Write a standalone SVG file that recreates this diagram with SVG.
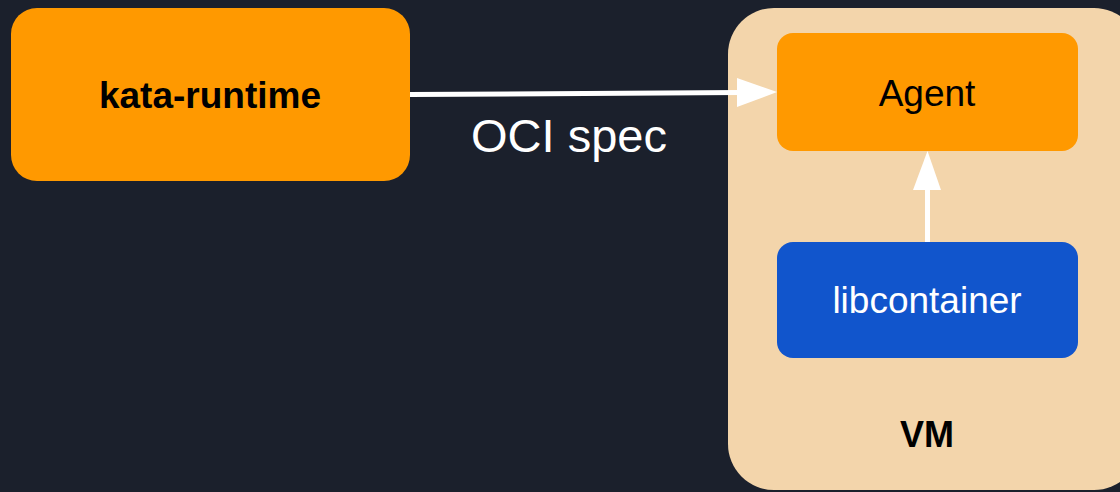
<svg xmlns="http://www.w3.org/2000/svg" width="1120" height="492" viewBox="0 0 1120 492">
<style>
.lbl{font-family:"Liberation Sans",Arial,sans-serif;text-anchor:middle}
.b{font-weight:bold}
.conn{stroke:#ffffff;stroke-width:5;fill:none}
</style>
<rect width="1120" height="492" fill="#1b202c"/>
<g id="vm">
<rect x="728" y="8" width="412" height="482" rx="46" fill="#f3d5ab"/>
<text class="lbl b" x="927" y="447" font-size="36" fill="#000">VM</text>
</g>
<g id="kata-runtime">
<rect x="11" y="8" width="399" height="173" rx="26" fill="#ff9900"/>
<text class="lbl b" x="210" y="108" font-size="37" fill="#000">kata-runtime</text>
</g>
<g id="agent">
<rect x="777" y="33" width="301" height="118" rx="16" fill="#ff9900"/>
<text class="lbl" x="927" y="106" font-size="37" fill="#000">Agent</text>
</g>
<g id="libcontainer">
<rect x="777" y="242" width="301" height="116" rx="16" fill="#1155cc"/>
<text class="lbl" x="927" y="313" font-size="37" fill="#fff">libcontainer</text>
</g>
<g id="connectors">
<path class="conn" d="M410 94.5 L740 92.5"/>
<polygon points="737,78 777,92 737,107" fill="#fff"/>
<text class="lbl" x="569" y="152" font-size="47" fill="#fff">OCI spec</text>
<path class="conn" d="M927.5 242 L927.5 188" stroke-width="6"/>
<polygon points="913,190 927.5,151 941,190" fill="#fff"/>
</g>
</svg>
